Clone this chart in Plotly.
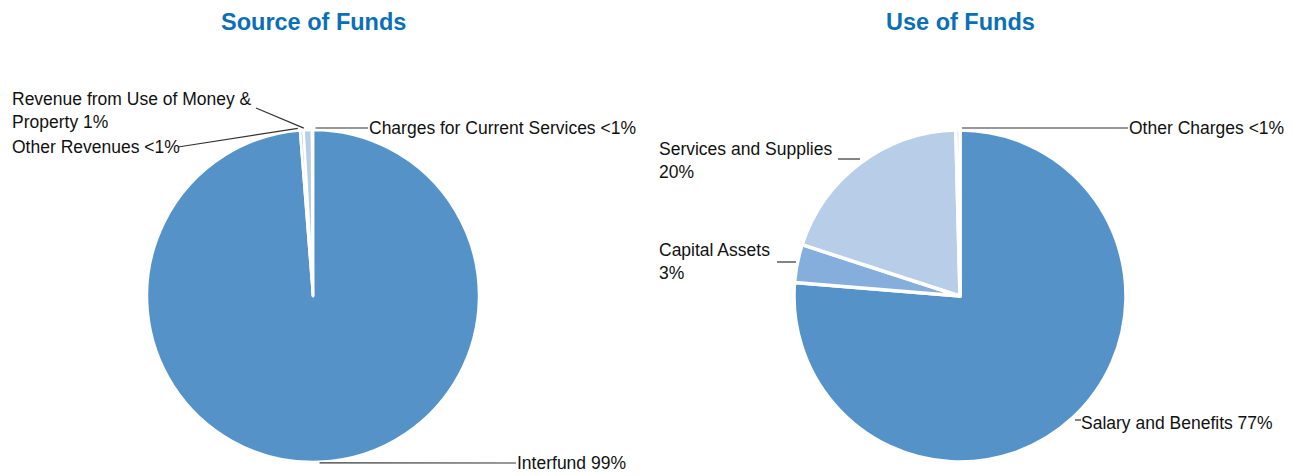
import math
import plotly.graph_objects as go

# ---------------- data ----------------
src_labels = ["Interfund", "Other Revenues", "Revenue from Use of Money & Property",
              "Charges for Current Services"]
src_values = [98.75, 0.35, 0.8, 0.1]
src_text = ["Interfund 99%", "Other Revenues <1%", "Revenue from Use of Money &<br>Property 1%",
            "Charges for Current Services <1%"]

use_labels = ["Salary and Benefits", "Capital Assets", "Services and Supplies", "Other Charges"]
use_values = [76.3, 3.7, 19.6, 0.4]
use_text = ["Salary and Benefits 77%", "Capital Assets<br>3%", "Services and Supplies<br>20%",
            "Other Charges <1%"]

titles = ["Source of Funds", "Use of Funds"]

# ---------------- styling / layout ----------------
W, H = 1293, 476          # window size
OX, OY = 8, 8             # page body margin offset
FW, FH = W - OX, H - OY   # figure size
FONT = "Liberation Sans, Arial, sans-serif"
TITLE_COLOR = "#0B6FB8"
LINE_COLOR = "#333333"
src_colors = ["#5592C8", "#C3D5EC", "#B7CDE8", "#C3D5EC"]
use_colors = ["#5592C8", "#86AEDC", "#B7CDE8", "#C3D5EC"]
border_w = [2.5, 3.5]

R = 166
CY = 296
CX = [313, 960]

# label placement (pixel positions of label text, in window pixels)
src_label_pos = [(515, 463), (10, 147), (10, 110), (367, 128)]
use_label_pos = [(1079, 423), (657, 262), (657, 161), (1127, 128)]


def paper(x, y):
    return (x - OX) / FW, 1 - (y - OY) / FH


def anchors(values, cx):
    """points on circle at each slice's mid-angle (clockwise from 12 o'clock)"""
    tot = sum(values)
    out = []
    cum = 0
    for v in values:
        mid = (cum + v / 2) / tot * 2 * math.pi
        cum += v
        out.append((cx + R * math.sin(mid), CY - R * math.cos(mid)))
    return out


fig = go.Figure()
for i, (labels, values, colors) in enumerate([(src_labels, src_values, src_colors),
                                               (use_labels, use_values, use_colors)]):
    cx = CX[i]
    x0, y1 = paper(cx - R, CY - R)
    x1, y0 = paper(cx + R, CY + R)
    fig.add_trace(go.Pie(
        labels=labels, values=values, sort=False, direction="clockwise", rotation=0,
        textinfo="none", hoverinfo="label+percent",
        marker=dict(colors=colors, line=dict(color="white", width=border_w[i])),
        domain=dict(x=[x0, x1], y=[y0, y1]), showlegend=False,
    ))

annotations = []
shapes = []

# titles
for i, t in enumerate(titles):
    x, y = paper(CX[i], 22)
    annotations.append(dict(text=f"<b>{t}</b>", x=x, y=y, xref="paper", yref="paper",
                            showarrow=False, xanchor="center", yanchor="middle",
                            font=dict(family=FONT, size=23.5, color=TITLE_COLOR)))

# labels
for texts, pos in [(src_text, src_label_pos), (use_text, use_label_pos)]:
    for t, (lx, ly) in zip(texts, pos):
        x, y = paper(lx, ly)
        annotations.append(dict(text=t, x=x, y=y, xref="paper", yref="paper", showarrow=False,
                                xanchor="left", yanchor="middle", align="left",
                                font=dict(family=FONT, size=17.5, color="#111111")))


def seg(xa, ya, xb, yb):
    pa = paper(xa, ya)
    pb = paper(xb, yb)
    shapes.append(dict(type="line", xref="paper", yref="paper", x0=pa[0], y0=pa[1],
                       x1=pb[0], y1=pb[1], line=dict(color=LINE_COLOR, width=1.2)))


# leader lines, left pie
sa = anchors(src_values, CX[0])
seg(sa[0][0], sa[0][1] + 1, 516, 463)        # Interfund
seg(sa[1][0] - 4, sa[1][1] - 2, 178, 147)    # Other Revenues
seg(sa[2][0] - 4, sa[2][1] - 2, 256, 108)    # Revenue from Use of Money
seg(sa[3][0] + 3, 128, 368, 128)             # Charges

# leader lines, right pie
ua = anchors(use_values, CX[1])
seg(ua[3][0] + 4, 128, 1128, 128)            # Other Charges
seg(838, 159, 860, 159)                      # Services and Supplies
seg(777, 262, 796, 262)                      # Capital Assets
seg(1075, 420, 1081, 420)                    # Salary and Benefits

fig.update_layout(
    width=FW, height=FH, margin=dict(l=0, r=0, t=0, b=0),
    paper_bgcolor="white", plot_bgcolor="white",
    annotations=annotations, shapes=shapes,
    font=dict(family=FONT),
)
fig.write_html("out.html")
